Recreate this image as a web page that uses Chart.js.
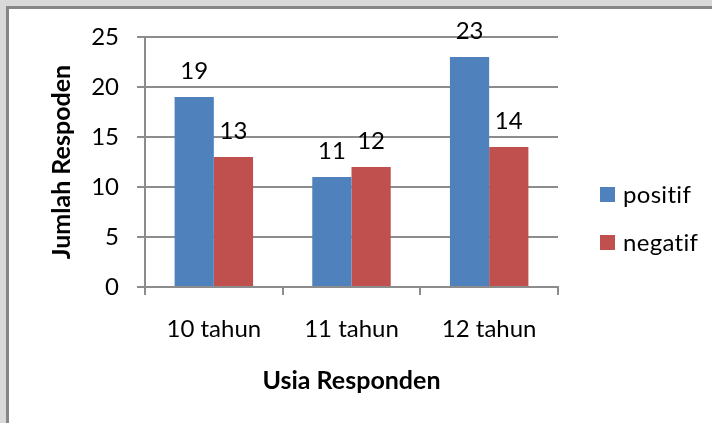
<!DOCTYPE html>
<html>
<head>
<meta charset="utf-8">
<script src="https://cdn.jsdelivr.net/npm/chart.js@4/dist/chart.umd.min.js"></script>
<style>
  body { margin: 0; background: #d9d9d9; width: 712px; height: 423px; overflow: hidden; position: relative; }
  #frame { position: absolute; left: 6px; top: 6px; width: 720px; height: 430px;
           border-left: 3px solid #868686; border-top: 3px solid #868686; background: #fff; }
  #wrap { position: absolute; left: 0; top: 0; width: 712px; height: 423px; }
</style>
</head>
<body>
<div id="frame"></div>
<div id="wrap"><canvas id="chart" width="712" height="423"></canvas></div>
<script>
// data
const categories = ['10 tahun', '11 tahun', '12 tahun'];
const positif = [19, 11, 23];
const negatif = [13, 12, 14];
const seriesNames = ['positif', 'negatif'];
const yTicks = [0, 5, 10, 15, 20, 25];

const FONT = 'Lato, "Open Sans", sans-serif';
const GRID = '#8c8c8c';

// angka di atas batang
const valueLabels = {
    id: 'valueLabels',
    afterDatasetsDraw(chart) {
        const ctx = chart.ctx;
        ctx.save();
        ctx.font = '24px ' + FONT;
        ctx.fillStyle = '#000';
        ctx.textAlign = 'center';
        ctx.textBaseline = 'middle';
        chart.data.datasets.forEach((ds, i) => {
            chart.getDatasetMeta(i).data.forEach((bar, j) => {
                ctx.fillText(ds.data[j], bar.x, bar.y - 26);
            });
        });
        ctx.restore();
    }
};

// legenda di kanan
const sideLegend = {
    id: 'sideLegend',
    afterDraw(chart) {
        const ctx = chart.ctx;
        ctx.save();
        ctx.font = '24px ' + FONT;
        ctx.letterSpacing = '0.3px'; // tanpa ligatur "ti"
        ctx.textBaseline = 'middle';
        ctx.textAlign = 'left';
        chart.data.datasets.forEach((ds, i) => {
            const y = 195 + i * 48;
            ctx.fillStyle = ds.backgroundColor;
            ctx.fillRect(600, y - 8, 15, 15);
            ctx.fillStyle = '#000';
            ctx.fillText(ds.label, 623, y);
        });
        ctx.restore();
    }
};

new Chart(document.getElementById('chart'), {
    type: 'bar',
    data: {
        labels: categories,
        datasets: [
            { label: seriesNames[0], data: positif, backgroundColor: '#4f81bd' },
            { label: seriesNames[1], data: negatif, backgroundColor: '#c0504d' }
        ]
    },
    options: {
        responsive: false,
        animation: false,
        layout: { padding: { top: 37, right: 154, left: 0, bottom: 0 } },
        datasets: { bar: { categoryPercentage: 0.57, barPercentage: 1 } },
        plugins: { legend: { display: false }, tooltip: { enabled: false } },
        scales: {
            x: {
                grid: { drawOnChartArea: false, drawTicks: true, tickLength: 8, color: GRID, lineWidth: 2 },
                border: { color: GRID, width: 2 },
                ticks: { color: '#000', font: { family: FONT, size: 24 }, padding: 20 },
                title: { display: true, text: 'Usia Responden', color: '#000',
                         font: { family: FONT, size: 25, weight: 'bold' }, padding: { bottom: 27 } },
                afterFit(scale) { scale.height = 136; }
            },
            y: {
                min: 0,
                max: 25,
                afterBuildTicks(scale) { scale.ticks = yTicks.map(v => ({ value: v })); },
                grid: { drawTicks: true, tickLength: 8, color: GRID, lineWidth: 2 },
                border: { color: GRID, width: 2 },
                ticks: { color: '#000', font: { family: FONT, size: 24 }, padding: 18 },
                title: { display: true, text: 'Jumlah Respoden', color: '#000',
                         font: { family: FONT, size: 25, weight: 'bold' }, padding: { top: 47 } },
                afterFit(scale) { scale.width = 145; }
            }
        }
    },
    plugins: [valueLabels, sideLegend]
});
</script>
</body>
</html>
